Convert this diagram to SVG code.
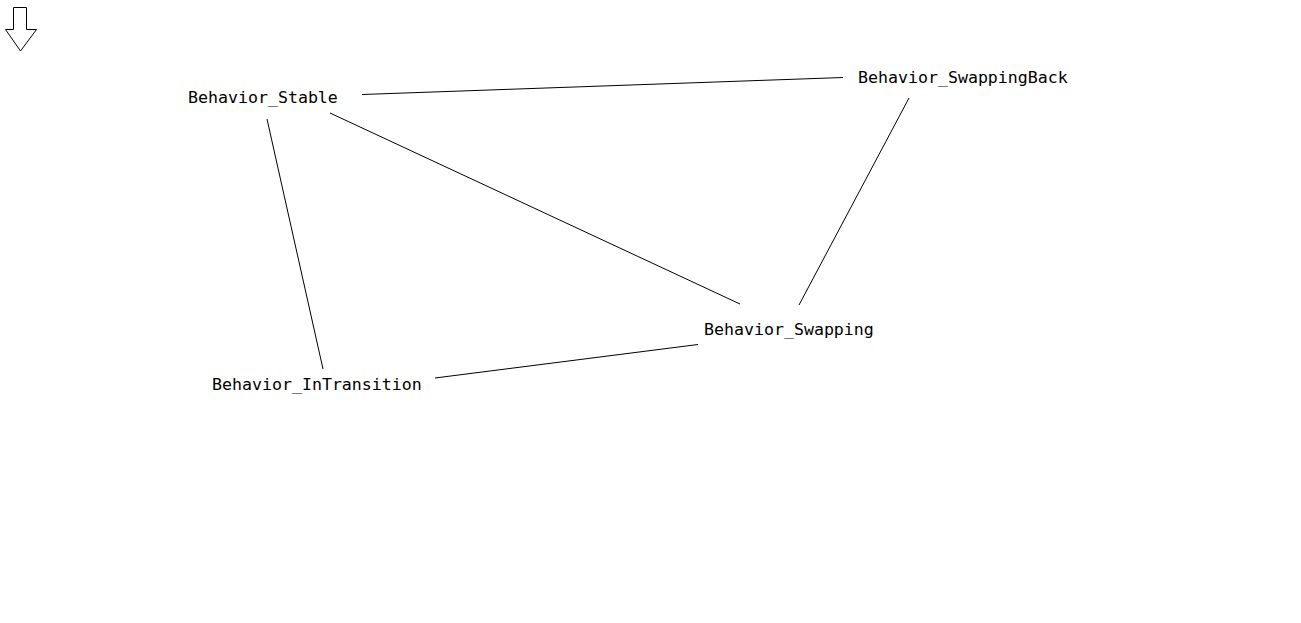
<svg xmlns="http://www.w3.org/2000/svg" width="1301" height="623" viewBox="0 0 1301 623">
<style>
.bg{fill:#ffffff}
.lbl{font-family:"DejaVu Sans Mono","Liberation Mono",monospace;font-size:16.6px;fill:#000000}
.edge{stroke:#000000;stroke-width:1;fill:none}
.start{fill:#ffffff;stroke:#000000;stroke-width:1}
</style>
<rect class="bg" x="0" y="0" width="1301" height="623"/>
<g id="start-arrow">
<polygon class="start" points="13.5,7.5 26.5,7.5 26.5,29.5 36.5,29.5 20.5,51 5.5,29.5 13.5,29.5"/>
</g>
<g id="connectors">
<line class="edge" x1="362" y1="94.5" x2="843" y2="77.5"/>
<line class="edge" x1="330" y1="113" x2="740" y2="304"/>
<line class="edge" x1="267" y1="119" x2="323" y2="369"/>
<line class="edge" x1="909" y1="98" x2="799" y2="305"/>
<line class="edge" x1="435" y1="378" x2="698" y2="344.5"/>
</g>
<g id="Behavior_Stable"><text class="lbl" x="188" y="102.5">Behavior_Stable</text></g>
<g id="Behavior_SwappingBack"><text class="lbl" x="858" y="82.5">Behavior_SwappingBack</text></g>
<g id="Behavior_Swapping"><text class="lbl" x="704" y="335">Behavior_Swapping</text></g>
<g id="Behavior_InTransition"><text class="lbl" x="212" y="390">Behavior_InTransition</text></g>
</svg>
